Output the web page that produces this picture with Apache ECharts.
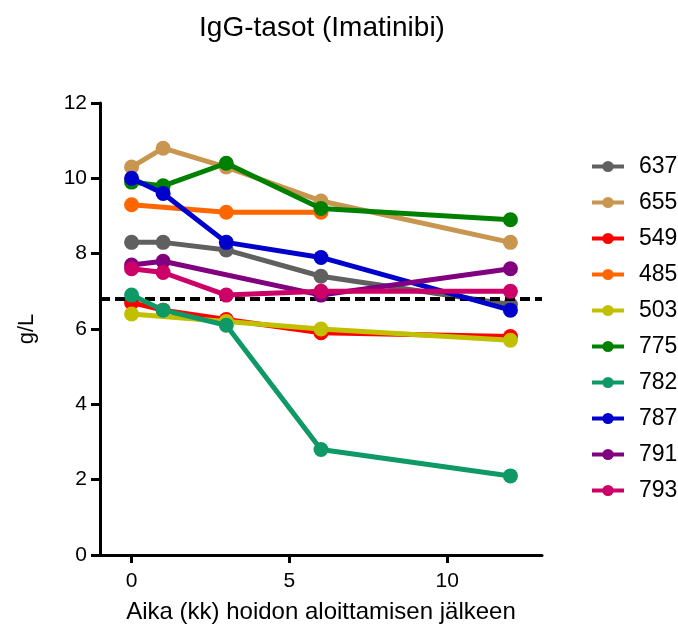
<!DOCTYPE html>
<html>
<head>
<meta charset="utf-8">
<script src="https://cdn.jsdelivr.net/npm/echarts@6/dist/echarts.min.js"></script>
<style>html,body{margin:0;padding:0;background:#fff}#c{width:678px;height:625px}</style>
</head>
<body>
<div id="c"></div>
<script>
// Data (x = months since start, y = g/L)
const seriesNames = ['637','655','549','485','503','775','782','787','791','793'];
const s637 = [[0,8.3],[1,8.3],[3,8.1],[6,7.4],[12,6.65]];
const s655 = [[0,10.3],[1,10.8],[3,10.3],[6,9.4],[12,8.3]];
const s549 = [[0,6.7],[1,6.5],[3,6.25],[6,5.9],[12,5.8]];
const s485 = [[0,9.3],[3,9.1],[6,9.1]];
const s503 = [[0,6.4],[3,6.2],[6,6.0],[12,5.7]];
const s775 = [[0,9.9],[1,9.8],[3,10.4],[6,9.2],[12,8.9]];
const s782 = [[0,6.9],[1,6.5],[3,6.1],[6,2.8],[12,2.1]];
const s787 = [[0,10.0],[1,9.6],[3,8.3],[6,7.9],[12,6.5]];
const s791 = [[0,7.7],[1,7.8],[6,6.9],[12,7.6]];
const s793 = [[0,7.6],[1,7.5],[3,6.9],[6,7.0],[12,7.0]];
const refLevel = 6.8;
const xTicks = [0,5,10];

const allData = [s637,s655,s549,s485,s503,s775,s782,s787,s791,s793];
const colors = ['#606060','#C8964F','#FF0000','#FF6600','#C0C000','#008000','#0E9966','#0000CC','#800080','#CC0066'];

const font = 'Liberation Sans, Arial, sans-serif';
const series = seriesNames.map((n,i)=>({
  name:n, type:'line', data:allData[i],
  symbol:'circle', symbolSize:15,
  lineStyle:{width:5,color:colors[i]},
  itemStyle:{color:colors[i]},
  z:2+i
}));
series.push({
  type:'line', data:[], silent:true, z:5,
  markLine:{silent:true,symbol:'none',label:{show:false},
    lineStyle:{type:[10,5],width:4,color:'#000'},
    data:[{yAxis:refLevel}]}
});

const chart = echarts.init(document.getElementById('c'),null,{renderer:'canvas'});
chart.setOption({
  animation:false,
  backgroundColor:'#fff',
  title:{text:'IgG-tasot (Imatinibi)',left:317,textAlign:'center',top:9,
    textStyle:{fontFamily:font,fontSize:28,fontWeight:'normal',color:'#000'}},
  legend:{orient:'vertical',left:585,top:150,itemWidth:32,itemHeight:14,itemGap:13,
    data:seriesNames,
    lineStyle:{width:4},
    textStyle:{fontFamily:font,fontSize:23,color:'#000',padding:[0,0,0,10]}},
  grid:{left:100,right:136,top:103,bottom:70,containLabel:false,outerBoundsMode:'none'},
  xAxis:{type:'value',min:-1,max:13,
    name:'Aika (kk) hoidon aloittamisen jälkeen',nameLocation:'middle',nameGap:45,
    nameTextStyle:{fontFamily:font,fontSize:24,color:'#000'},
    axisLine:{lineStyle:{color:'#000',width:3}},
    axisTick:{show:true,length:8,lineStyle:{width:3,color:'#000'},customValues:xTicks},
    axisLabel:{fontFamily:font,fontSize:21,color:'#000',margin:16,customValues:xTicks},
    splitLine:{show:false}},
  yAxis:{type:'value',min:0,max:12,interval:2,
    name:'g/L',nameLocation:'middle',nameGap:62,
    nameTextStyle:{fontFamily:font,fontSize:22,color:'#000'},
    axisLine:{show:true,onZero:false,lineStyle:{color:'#000',width:3}},
    axisTick:{show:true,length:9,lineStyle:{width:3,color:'#000'}},
    axisLabel:{fontFamily:font,fontSize:21,color:'#000',margin:13},
    splitLine:{show:false}},
  series:series
});
</script>
</body>
</html>
